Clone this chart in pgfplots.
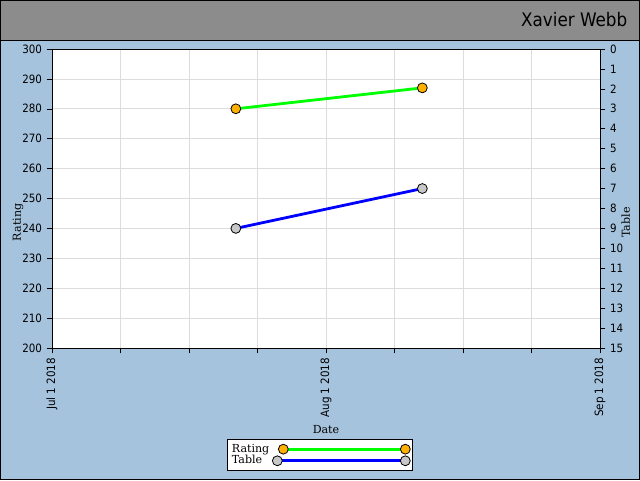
\documentclass[border=0pt]{standalone}
\usepackage{fontspec}
\setmainfont{DejaVu Serif}
\newfontfamily\ticksfont{DejaVu Sans Condensed}
\newfontfamily\namefont{DejaVu Sans Condensed}
\usepackage{pgfplots}
\pgfplotsset{compat=1.18}

\definecolor{bgblue}{HTML}{A6C3DD}
\definecolor{headgray}{HTML}{8C8C8C}
\definecolor{gridgray}{HTML}{DCDCDC}
\definecolor{markorange}{HTML}{FFB000}
\definecolor{markgray}{HTML}{C8C8C8}

\pgfplotsset{
  common/.style={
    scale only axis,
    width=411pt, height=224.25pt,
    at={(39pt,99pt)}, anchor=south west,
    xmin=0, xmax=62,
    tick align=outside,
    major tick length=4pt,
    tick style={black, thin},
    tick label style={font=\ticksfont\fontsize{8.6}{10}\selectfont},
    /pgf/number format/assume math mode=true,
    label style={font=\fontsize{8.3}{10}\selectfont},
  },
}

\begin{document}
\begin{tikzpicture}[x=0.75pt,y=0.75pt]
  \useasboundingbox (0,0) rectangle (640,480);
  % page, header bar
  \fill[bgblue] (0,0) rectangle (640,480);
  \fill[headgray] (0,440) rectangle (640,480);
  \draw[black, line width=0.75pt] (0,440) -- (640,440);
  \draw[black, line width=0.75pt] (0.5,0.5) rectangle (639.5,479.5);
  \node[anchor=east, font=\namefont\fontsize{14}{16}\selectfont] at (632,460) {Xavier Webb};

  \begin{axis}[
    common,
    axis background/.style={fill=white},
    ymin=200, ymax=300,
    ytick={200,210,...,300},
    xtick={0,7.75,...,62},
    xticklabels={Jul 1 2018,,,,Aug 1 2018,,,,Sep 1 2018},
    xticklabel style={rotate=90, anchor=east},
    xtick pos=bottom, ytick pos=left,
    grid=major,
    major grid style={gridgray, line width=0.6pt},
    axis line style={black, line width=0.75pt},
    xlabel={Date},
    xlabel style={yshift=1pt},
    ylabel={Rating},
    ylabel style={at={(rel axis cs:-0.062,0.42)}, anchor=center},
    legend style={
      at={(0.489,-0.358)}, anchor=center,
      draw=black, fill=white,
      font=\fontsize{8.3}{10}\selectfont,
      cells={anchor=west},
      row sep=-3pt,
      inner sep=1.5pt,
      legend plot pos=right,
    },
    legend cell align=left,
  ]
    \addplot[green, line width=2.1pt, mark=*, mark size=3.7pt,
      mark options={fill=markorange, draw=black, line width=0.6pt}]
      coordinates {(20.8,280) (41.9,287)};

    \addlegendimage{legend image code/.code={
      \draw[green, line width=2.1pt] (4.5pt,0pt) -- (96pt,0pt);
      \draw[black, fill=markorange, line width=0.6pt] (4.5pt,0pt) circle (3.7pt) (96pt,0pt) circle (3.7pt);}}
    \addlegendimage{legend image code/.code={
      \draw[blue, line width=2.1pt] (0pt,0pt) -- (96pt,0pt);
      \draw[black, fill=markgray, line width=0.6pt] (0pt,0pt) circle (3.7pt) (96pt,0pt) circle (3.7pt);}}
    \legend{,Rating,Table}
  \end{axis}

  \begin{axis}[
    common,
    axis x line=none,
    axis y line*=right,
    axis line style={black, line width=0.75pt},
    ymin=0, ymax=15,
    y dir=reverse,
    ytick={0,1,...,15},
    ylabel={Table},
    ylabel style={at={(rel axis cs:1.047,0.42)}, anchor=center},
  ]
    \addplot[blue, line width=2.1pt, mark=*, mark size=3.7pt,
      mark options={fill=markgray, draw=black, line width=0.6pt}]
      coordinates {(20.8,9) (41.9,7)};
  \end{axis}
\end{tikzpicture}
\end{document}
